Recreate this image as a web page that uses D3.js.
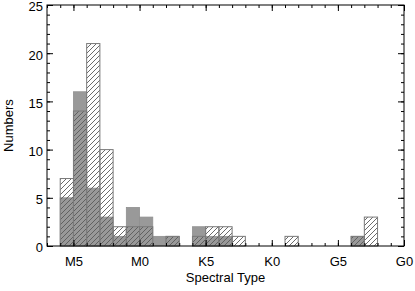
<!DOCTYPE html>
<html>
<head>
<meta charset="utf-8">
<script src="https://cdn.jsdelivr.net/npm/d3@7"></script>
<style>
  body { margin: 0; background: #fff; }
  text { font-family: Helvetica, "Liberation Sans", Arial, sans-serif; fill: #000; }
</style>
</head>
<body>
<svg width="415" height="291"></svg>
<script>
// bins: left edge of each bin, in subtype steps counted from M5 (M5 = 0, M0 = 5 ... G0 = 25)
var binStart    = [-1, 0, 1, 2, 3, 4, 5, 6, 7, 8, 9, 10, 11, 12, 13, 14, 15, 16, 17, 18, 19, 20, 21, 22];
var grayCounts  = [ 5, 16, 6, 3, 1, 4, 3, 1, 1, 0, 2, 1, 1, 0, 0, 0, 0, 0, 0, 0, 0, 0, 1, 0];
var hatchCounts = [ 7, 14, 21, 10, 2, 2, 2, 0, 1, 0, 1, 2, 2, 1, 0, 0, 0, 1, 0, 0, 0, 0, 1, 3];
var xTickValues = [0, 5, 10, 15, 20, 25];
var xTickLabels = ['M5', 'M0', 'K5', 'K0', 'G5', 'G0'];
var yTickValues = [0, 5, 10, 15, 20, 25];

var svg = d3.select('svg');
// plot box ("top" is taken by window.top, so use other names)
var plotL = 47, plotR = 404, plotT = 5, plotB = 246;

var x = d3.scaleLinear().domain([-2, 25]).range([plotL, plotR]);
var y = d3.scaleLinear().domain([0, 25]).range([plotB, plotT]);

// hatch pattern
var defs = svg.append('defs');
var pat = defs.append('pattern')
    .attr('id', 'hatch')
    .attr('patternUnits', 'userSpaceOnUse')
    .attr('width', 5)
    .attr('height', 5);
pat.append('path')
    .attr('d', 'M-1,1 l2,-2 M0,5 l5,-5 M4,6 l2,-2')
    .attr('stroke', '#5a5a5a')
    .attr('stroke-width', 0.9);

var bins = binStart.map(function (b, i) {
  return { x0: b, x1: b + 1, g: grayCounts[i], h: hatchCounts[i] };
});

// gray filled histogram
svg.append('g').selectAll('rect')
  .data(bins.filter(function (d) { return d.g > 0; }))
  .enter().append('rect')
    .attr('x', function (d) { return x(d.x0); })
    .attr('width', function (d) { return x(d.x1) - x(d.x0); })
    .attr('y', function (d) { return y(d.g); })
    .attr('height', function (d) { return y(0) - y(d.g); })
    .attr('fill', '#999999')
    .attr('stroke', '#909090')
    .attr('stroke-width', 0.8);

// hatched histogram on top
svg.append('g').selectAll('rect')
  .data(bins.filter(function (d) { return d.h > 0; }))
  .enter().append('rect')
    .attr('x', function (d) { return x(d.x0); })
    .attr('width', function (d) { return x(d.x1) - x(d.x0); })
    .attr('y', function (d) { return y(d.h); })
    .attr('height', function (d) { return y(0) - y(d.h); })
    .attr('fill', 'url(#hatch)')
    .attr('stroke', '#7a7a7a')
    .attr('stroke-width', 1);

// axes: ticks point inward on all four sides
function addAxis(axis, tx, ty) {
  var g = svg.append('g').attr('transform', 'translate(' + tx + ',' + ty + ')').call(axis);
  g.select('.domain').remove();
  g.selectAll('line').attr('stroke', '#000');
  return g;
}
var xMinor = d3.range(-2, 26, 1);
var yMinor = d3.range(0, 26, 1);

addAxis(d3.axisBottom(x).tickValues(xMinor).tickSize(-3).tickFormat(''), 0, plotB);
addAxis(d3.axisTop(x).tickValues(xMinor).tickSize(-3).tickFormat(''), 0, plotT);
addAxis(d3.axisLeft(y).tickValues(yMinor).tickSize(-3).tickFormat(''), plotL, 0);
addAxis(d3.axisRight(y).tickValues(yMinor).tickSize(-3).tickFormat(''), plotR, 0);

var xb = addAxis(d3.axisBottom(x).tickValues(xTickValues).tickSize(-6).tickPadding(11)
    .tickFormat(function (d, i) { return xTickLabels[i]; }), 0, plotB);
xb.selectAll('text').attr('font-size', 13).attr('fill', '#000')
    .attr('font-family', 'Helvetica, "Liberation Sans", Arial, sans-serif');
addAxis(d3.axisTop(x).tickValues(xTickValues).tickSize(-6).tickFormat(''), 0, plotT);
var yl = addAxis(d3.axisLeft(y).tickValues(yTickValues).tickSize(-6).tickPadding(4), plotL, 0);
yl.selectAll('text').attr('font-size', 13).attr('fill', '#000')
    .attr('dy', '0.45em')
    .attr('font-family', 'Helvetica, "Liberation Sans", Arial, sans-serif');
addAxis(d3.axisRight(y).tickValues(yTickValues).tickSize(-6).tickFormat(''), plotR, 0);

// frame
svg.append('rect')
    .attr('x', plotL).attr('y', plotT)
    .attr('width', plotR - plotL).attr('height', plotB - plotT)
    .attr('fill', 'none')
    .attr('stroke', '#000')
    .attr('stroke-width', 1);

// titles
svg.append('text')
    .attr('x', (plotL + plotR) / 2)
    .attr('y', 282)
    .attr('text-anchor', 'middle')
    .attr('font-size', 13)
    .text('Spectral Type');
svg.append('text')
    .attr('transform', 'translate(13,' + (plotT + plotB) / 2 + ') rotate(-90)')
    .attr('text-anchor', 'middle')
    .attr('font-size', 13)
    .text('Numbers');
</script>
</body>
</html>
